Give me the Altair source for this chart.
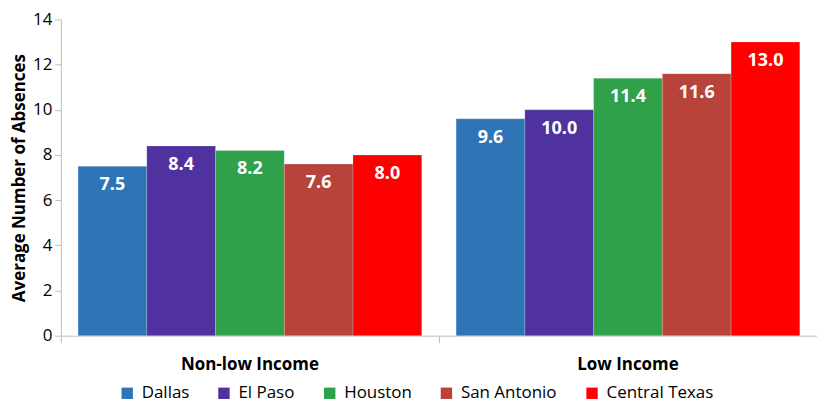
import altair as alt
import pandas as pd

groups = ["Non-low Income", "Low Income"]
cities = ["Dallas", "El Paso", "Houston", "San Antonio", "Central Texas"]
colors = ["#2E75B6", "#4F31A0", "#31A04A", "#B8433A", "#FF0000"]
non_low = [7.5, 8.4, 8.2, 7.6, 8.0]
low = [9.6, 10.0, 11.4, 11.6, 13.0]

rows = []
for c, v in zip(cities, non_low):
    rows.append({"group": groups[0], "city": c, "value": v})
for c, v in zip(cities, low):
    rows.append({"group": groups[1], "city": c, "value": v})
df = pd.DataFrame(rows)

FONT = "Open Sans"

x = alt.X("group:N", sort=groups, title=None,
          scale=alt.Scale(paddingInner=0, paddingOuter=0),
          axis=alt.Axis(labelAngle=0, labelFont=FONT, labelFontSize=17, labelFontWeight="bold",
                        labelColor="#000000", labelPadding=14, bandPosition=0,
                        tickColor="#BFBFBF", tickSize=7, domainColor="#BFBFBF"))
xo = alt.XOffset("city:N", sort=cities,
                 scale=alt.Scale(paddingInner=0, paddingOuter=0.25))
y = alt.Y("value:Q", title="Average Number of Absences",
          scale=alt.Scale(domain=[0, 14]),
          axis=alt.Axis(values=[0, 2, 4, 6, 8, 10, 12, 14], grid=False,
                        labelFont=FONT, labelFontSize=17, labelColor="#000000",
                        titleFont=FONT, titleFontSize=17, titleFontWeight="bold",
                        titleColor="#000000", tickColor="#BFBFBF", tickSize=6,
                        domainColor="#BFBFBF", labelPadding=3, titlePadding=4))

color = alt.Color("city:N", sort=cities, scale=alt.Scale(domain=cities, range=colors),
                  legend=alt.Legend(title=None, orient="none", legendX=58, legendY=366,
                                    direction="horizontal",
                                    symbolType="square", symbolSize=130, labelFont=FONT,
                                    labelFontSize=17, labelColor="#000000", columnPadding=26,
                                    symbolStrokeWidth=0, labelOffset=6))

bars = alt.Chart(df).mark_bar(stroke="#FFFFFF", strokeOpacity=0.4, strokeWidth=0.5).encode(
    x=x, xOffset=xo, y=y, color=color)

labels = alt.Chart(df).mark_text(color="white", font=FONT, fontSize=18, fontWeight="bold",
                                 baseline="top", dy=10).encode(
    x=x, xOffset=xo, y=y, text=alt.Text("value:Q", format=".1f"))

chart = alt.layer(bars, labels).properties(
    width=758, height=317, padding={"left": 2, "top": 2, "right": 0, "bottom": 0}
).configure_view(stroke=None)

chart.save("out.html", embed_options={"renderer": "svg", "actions": False})
